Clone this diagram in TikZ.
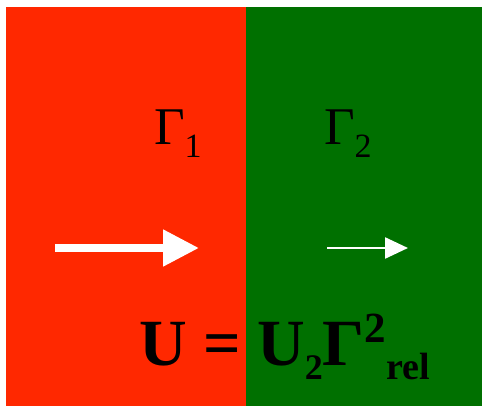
\documentclass[tikz,border=0pt]{standalone}
\usepackage{fontspec}
\setmainfont{Liberation Serif}
\usetikzlibrary{arrows.meta}
\definecolor{hotred}{RGB}{255,40,0}
\definecolor{darkgreen}{RGB}{0,112,0}
\begin{document}
\begin{tikzpicture}[x=1pt,y=-1pt,
  lbl/.style={inner sep=0pt,outer sep=0pt,anchor=base west,text=black},
  bigarrow/.style={white,line width=8pt,-{Triangle[length=36pt,width=35pt]}},
  smallarrow/.style={white,line width=2.5pt,-{Triangle[length=23pt,width=21pt]}}]
\useasboundingbox (0,0) rectangle (482,406);
\fill[white] (0,0) rectangle (482,406);
\fill[hotred] (6,7) rectangle (246,406);
\fill[darkgreen] (246,7) rectangle (482,406);
\node[lbl] (g1) at (154,145) {\fontsize{53}{53}\selectfont Γ\raisebox{-13pt}{\fontsize{34}{34}\selectfont 1}};
\node[lbl] (g2) at (324,145) {\fontsize{53}{53}\selectfont Γ\raisebox{-13pt}{\fontsize{34}{34}\selectfont 2}};
\coordinate (a1s) at (55,248);
\coordinate (a1e) at (199,248);
\coordinate (a2s) at (327,248);
\coordinate (a2e) at (408,248);
\draw[bigarrow] (a1s) -- (a1e);
\draw[smallarrow] (a2s) -- (a2e);
\node[lbl] (eq) at (139,365) {\fontsize{66}{66}\selectfont\bfseries U = U\raisebox{-14pt}{\fontsize{36}{36}\selectfont 2}Γ\raisebox{23pt}{\fontsize{43}{43}\selectfont 2}\raisebox{-14pt}{\fontsize{38}{38}\selectfont rel}};
\end{tikzpicture}
\end{document}
